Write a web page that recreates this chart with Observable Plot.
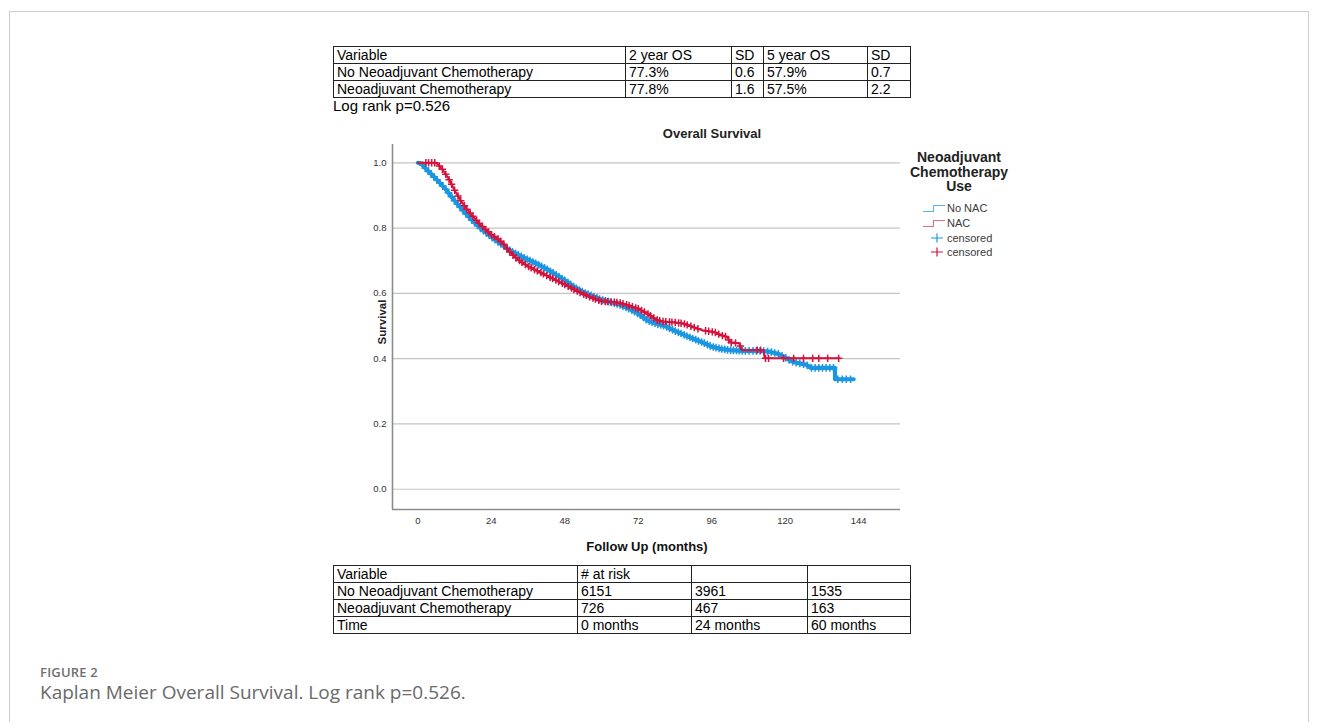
<!DOCTYPE html>
<html>
<head>
<meta charset="utf-8">
<script src="https://cdn.jsdelivr.net/npm/d3@7"></script>
<script src="https://cdn.jsdelivr.net/npm/@observablehq/plot@0.6"></script>
<style>
  html, body { margin: 0; padding: 0; background: #fff; }
  body { width: 1320px; height: 722px; overflow: hidden; position: relative;
         font-family: "Liberation Sans", Arial, sans-serif; }
  .frame { position: absolute; left: 9px; top: 11px; width: 1300px; height: 900px;
           border: 1px solid #cfcfcf; box-sizing: border-box; }
  table.t { position: absolute; border-collapse: collapse; font-size: 14px; color: #000;
            table-layout: fixed; }
  table.t td { border: 1px solid #222; padding: 0 0 0 3px; height: 16px; line-height: 16px;
               white-space: nowrap; overflow: hidden; }
  #logrank { position: absolute; left: 333px; top: 97px; font-size: 15px; line-height: 17px; color: #000; }
  #title { position: absolute; left: 612px; width: 200px; top: 126px; text-align: center;
           font-weight: bold; font-size: 13px; color: #222; }
  #ylab { position: absolute; left: 382px; top: 322px; transform: translate(-50%, -50%) rotate(-90deg);
          font-weight: bold; font-size: 11.5px; line-height: 12px; color: #222; white-space: nowrap; }
  #xlab { position: absolute; left: 547px; width: 200px; top: 539px; text-align: center;
          font-weight: bold; font-size: 13px; color: #111; }
  #chart { position: absolute; left: 340px; top: 120px; }
  #legend { position: absolute; left: 884px; top: 150px; width: 150px; }
  #legend .lt { text-align: center; font-weight: bold; font-size: 14px; line-height: 14.5px; color: #222; }
  #legend .items { position: absolute; left: 38px; top: 51px; }
  #legend .it { height: 14.7px; display: flex; align-items: center; font-size: 11px; color: #3a3a3a; }
  #legend svg { display: block; margin-right: 1px; }
  #figlabel { position: absolute; left: 40px; top: 665px; font-family: "Open Sans", sans-serif;
              font-weight: 600; font-size: 13px; line-height: 15px; color: #707070; letter-spacing: 0.2px; }
  #caption { position: absolute; left: 40px; top: 682px; font-family: "Open Sans", sans-serif;
             font-size: 19px; line-height: 20px; color: #6a6a6a; }
</style>
</head>
<body>
<div class="frame"></div>
<div id="top"></div>
<div id="logrank"></div>
<div id="title">Overall Survival</div>
<div id="chart"></div>
<div id="ylab">Survival</div>
<div id="xlab">Follow Up (months)</div>
<div id="legend"></div>
<div id="bottom"></div>
<div id="figlabel">FIGURE 2</div>
<div id="caption"></div>
<script>
// ---------------- DATA ----------------
const summaryHeader = ["Variable", "2 year OS", "SD", "5 year OS", "SD"];
const groupNames = ["No Neoadjuvant Chemotherapy", "Neoadjuvant Chemotherapy"];
const os2yr = ["77.3%", "77.8%"];
const sd2yr = ["0.6", "1.6"];
const os5yr = ["57.9%", "57.5%"];
const sd5yr = ["0.7", "2.2"];
const logRankText = "Log rank p=0.526";

const riskHeader = ["Variable", "# at risk", "", ""];
const atRiskNoNAC = [6151, 3961, 1535];
const atRiskNAC = [726, 467, 163];
const riskTimes = ["0 months", "24 months", "60 months"];

const legendTitle = ["Neoadjuvant", "Chemotherapy", "Use"];
const legendLabels = ["No NAC", "NAC", "censored", "censored"];

const monthTicks = [0, 24, 48, 72, 96, 120, 144];
const survivalTicks = [0, 0.2, 0.4, 0.6, 0.8, 1.0];

// Kaplan-Meier estimates: [month, survival]
const noNacCurve = [
  [0,1.0],[1,0.998],[3,0.978],[6,0.950],[9,0.920],[12,0.884],[15,0.851],[18,0.821],[21,0.795],
  [24,0.773],[27,0.752],[30,0.732],[33,0.717],[36,0.703],[39,0.690],[42,0.675],[45,0.658],
  [48,0.640],[51,0.620],[54,0.604],[57,0.592],[60,0.580],[63,0.573],[66,0.565],[69,0.553],
  [72,0.538],[75,0.517],[78,0.507],[81,0.499],[84,0.485],[87,0.473],[90,0.461],[93,0.450],
  [96,0.437],[99,0.430],[102,0.426],[106,0.424],[112,0.424],[115,0.421],[118,0.414],[120,0.404],
  [122,0.392],[124,0.387],[127,0.381],[128.3,0.372],[136.3,0.372],[136.3,0.337],[142.4,0.337]
];
const nacCurve = [
  [0,1.0],[6,1.0],[8,0.980],[10,0.952],[12,0.916],[14,0.884],[16,0.858],[18,0.836],[20,0.815],
  [22,0.797],[24,0.780],[26,0.768],[28,0.752],[30,0.727],[32,0.709],[34,0.695],[36,0.683],
  [39,0.669],[42,0.655],[45,0.641],[48,0.627],[51,0.612],[54,0.598],[57,0.586],[60,0.576],
  [63,0.574],[66,0.571],[69,0.563],[72,0.553],[75,0.538],[78,0.519],[80,0.514],[84,0.511],
  [87,0.507],[89,0.500],[91,0.493],[93,0.487],[97,0.481],[99,0.472],[101,0.467],[102,0.450],
  [105,0.447],[106,0.426],[113,0.426],[113.3,0.401],[137.6,0.401]
];
// censoring times (months)
const noNacCensored = [
  1.5,2.5,3.4,4.3,5.3,6.2,7.2,8.1,9.1,10,11,12,12.9,13.8,14.8,15.7,16.7,17.6,18.6,19.5,20.5,21.4,
  22.4,23.3,24.3,25.2,26.2,27.1,28.1,29,30,30.9,31.9,32.8,33.8,34.7,35.7,36.6,37.6,38.5,39.5,40.4,
  41.4,42.3,43.3,44.2,45.2,46.1,47.1,48,49,49.9,50.9,51.8,52.8,53.7,54.7,55.6,56.6,57.5,58.5,59.4,
  60.4,61.3,62.3,63.2,64.2,65.1,66.1,67,68,68.9,69.9,70.8,71.8,72.7,73.7,74.6,75.6,76.5,77.5,78.4,
  79.4,80.3,81.3,82.2,83.2,84.1,85.1,86,87,87.9,88.9,89.8,90.8,91.7,92.7,93.6,94.6,95.5,96.5,97.4,
  98.4,99.3,100.3,101.2,102.2,103.1,104.1,105,106,107,108.2,109.5,110.6,111.8,113,114.3,115.5,
  116.6,117.8,119,120.2,121.3,122.5,123.6,124.8,126,127.2,128.6,129.8,131,132.2,133.4,134.6,135.8,
  137.2,138.7,140,141.4
];
const nacCensored = [
  2.6,3.5,4.5,5.5,7,8,9.1,10.2,11,12,13.1,14,15.2,16,17.1,18,19.2,20,21.1,22.2,23,24.1,25,26.2,
  27,28.1,29.2,30,31.1,32,33.2,34,35.1,36.2,37,38.1,39,40.2,41,42.1,43.2,44,45.1,46,47.2,48,49.1,
  50.2,51,52.1,53,54.2,55,56.1,57.2,58,59.1,60,61.2,62,63.1,64.2,65,66.1,67,68.2,69,70.1,71.2,72,
  73.1,74,75.2,76,77.1,78.2,79,80.1,81,82.2,83,84.1,85.2,86,87.1,88,89.2,90.3,91.5,94,95,96.2,
  97.2,98.3,99.5,100.5,101.6,102.4,103.8,105.4,110.9,112,113.6,114.6,119.5,122.8,126,129,131,
  133.9,137.5
];

// ---------------- HELPERS ----------------
const toRows = curve => curve.map(([t, s]) => ({t, s}));
function survivalAt(curve, time) {
  for (let i = curve.length - 1; i >= 0; i--) {
    if (curve[i][0] <= time) {
      const a = curve[i], b = curve[i + 1];
      if (!b || b[0] === a[0]) return a[1];
      return a[1] + (b[1] - a[1]) * (time - a[0]) / (b[0] - a[0]);
    }
  }
  return curve[0][1];
}
const censorRows = (times, curve) => times.map(t => ({t, s: survivalAt(curve, t)}));

const BLUE = "#1a96e2";
const RED = "#d4123c";

// ---------------- TABLES ----------------
function makeTable(id, left, top, colWidths, rows) {
  const tbl = d3.select("#" + id).append("table").attr("class", "t")
    .style("left", left + "px").style("top", top + "px");
  const cg = tbl.append("colgroup");
  colWidths.forEach(w => cg.append("col").style("width", w + "px"));
  rows.forEach(r => {
    const tr = tbl.append("tr");
    r.forEach(c => tr.append("td").text(c));
  });
}
makeTable("top", 333, 46, [292, 106, 32, 104, 43], [
  summaryHeader,
  [groupNames[0], os2yr[0], sd2yr[0], os5yr[0], sd5yr[0]],
  [groupNames[1], os2yr[1], sd2yr[1], os5yr[1], sd5yr[1]]
]);
d3.select("#logrank").text(logRankText);
makeTable("bottom", 333, 565, [244, 114, 116, 103], [
  riskHeader,
  [groupNames[0], ...atRiskNoNAC.map(String)],
  [groupNames[1], ...atRiskNAC.map(String)],
  ["Time", ...riskTimes]
]);

// ---------------- CHART ----------------
const xDomain = [-8.3, 157.7];
const yDomain = [-0.062, 1.056];
const chart = Plot.plot({
  width: 700,
  height: 440,
  marginLeft: 52,
  marginRight: 140,
  marginTop: 24,
  marginBottom: 51,
  style: {fontSize: "9.5px", fontFamily: "Liberation Sans, Arial, sans-serif", color: "#333", background: "transparent"},
  x: {domain: xDomain, label: null},
  y: {domain: yDomain, label: null},
  marks: [
    Plot.gridY(survivalTicks, {stroke: "#c4c4c4", strokeOpacity: 1, strokeWidth: 1.2}),
    Plot.axisX(monthTicks, {tickSize: 0, tickPadding: 8, label: null, fill: "#333"}),
    Plot.axisY(survivalTicks, {tickSize: 0, tickPadding: 6, label: null, tickFormat: d3.format(".1f"), fill: "#333"}),
    Plot.ruleX([xDomain[0]], {stroke: "#8c8c8c", strokeWidth: 1.6}),
    Plot.ruleY([yDomain[0]], {stroke: "#8c8c8c", strokeWidth: 1.6}),
    Plot.line(toRows(noNacCurve), {x: "t", y: "s", stroke: BLUE, strokeWidth: 4.2}),
    Plot.dot(censorRows(noNacCensored, noNacCurve), {x: "t", y: "s", symbol: "plus", r: 2.6, stroke: BLUE, strokeWidth: 1.5}),
    Plot.line(toRows(nacCurve), {x: "t", y: "s", stroke: RED, strokeWidth: 2}),
    Plot.dot(censorRows(nacCensored, nacCurve), {x: "t", y: "s", symbol: "plus", r: 2.5, stroke: RED, strokeWidth: 1.5})
  ]
});
document.getElementById("chart").appendChild(chart);

// ---------------- LEGEND ----------------
const lg = d3.select("#legend");
legendTitle.forEach(l => lg.append("div").attr("class", "lt").text(l));
const items = lg.append("div").attr("class", "items");
const legendKinds = [
  {kind: "step", color: "#5ab2ee"}, {kind: "step", color: "#ec6a80"},
  {kind: "plus", color: BLUE}, {kind: "plus", color: RED}
];
legendLabels.forEach((lab, i) => {
  const row = items.append("div").attr("class", "it");
  const s = row.append("svg").attr("width", 24).attr("height", 12);
  const k = legendKinds[i];
  if (k.kind === "step") {
    s.append("path").attr("d", "M1,9.5H11.5V3.5H23").attr("fill", "none")
      .attr("stroke", k.color).attr("stroke-width", 1.1);
  } else {
    s.append("path").attr("d", "M9,6H21M15,1.5V10.5").attr("fill", "none")
      .attr("stroke", k.color).attr("stroke-width", 1.2);
  }
  row.append("span").text(lab);
});

d3.select("#caption").text("Kaplan Meier Overall Survival. " + logRankText + ".");
</script>
</body>
</html>
